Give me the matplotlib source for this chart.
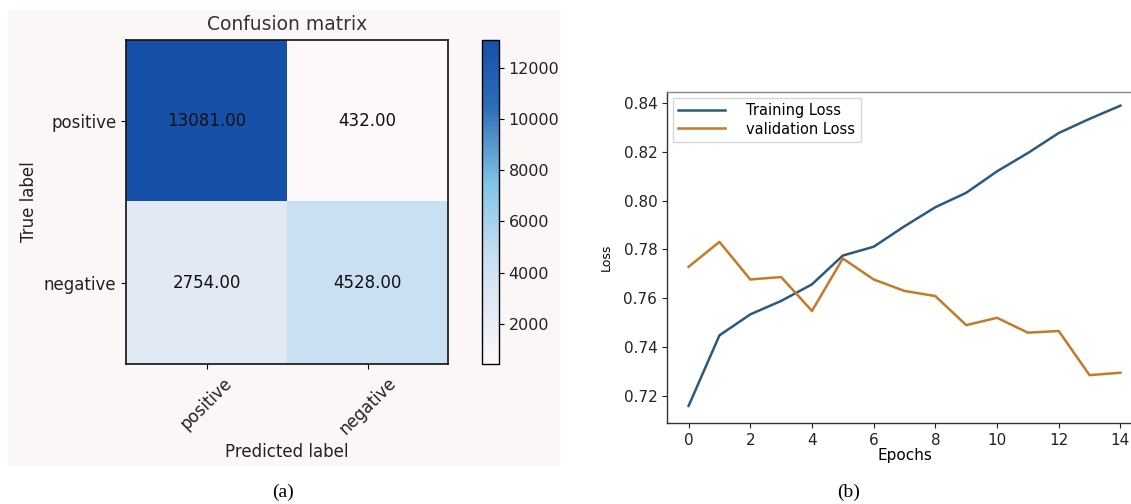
import matplotlib
matplotlib.use('Agg')
import matplotlib.pyplot as plt
import numpy as np
from matplotlib.colors import LinearSegmentedColormap
from matplotlib.patches import Rectangle

plt.rcParams['font.family'] = ['DejaVu Sans']

# confusion matrix counts (rows = true, cols = predicted)
classes = ['positive', 'negative']
cm = np.array([[13081, 432],
               [2754, 4528]])
cbar_ticks = [2000, 4000, 6000, 8000, 10000, 12000]

# loss curves per epoch
epochs = list(range(15))
train_loss = [0.7159, 0.7448, 0.7534, 0.7589, 0.7657, 0.7775, 0.7811, 0.7895,
              0.7973, 0.8032, 0.8120, 0.8195, 0.8277, 0.8335, 0.8389]
val_loss = [0.7729, 0.7831, 0.7677, 0.7687, 0.7548, 0.7763, 0.7677, 0.7630,
            0.7609, 0.7490, 0.7520, 0.7459, 0.7466, 0.7285, 0.7295]
loss_ticks = [0.72, 0.74, 0.76, 0.78, 0.80, 0.82, 0.84]
epoch_ticks = [0, 2, 4, 6, 8, 10, 12, 14]

W, H = 1131, 504


def px_box(left, top, right, bottom):
    """pixel box -> figure fraction [l, b, w, h]"""
    return [left / W, 1 - bottom / H, (right - left) / W, (bottom - top) / H]


fig = plt.figure(figsize=(W / 100, H / 100), dpi=100)
fig.patch.set_facecolor('white')

# light panel behind the confusion matrix
fig.patches.append(Rectangle((8 / W, 1 - 466 / H), 552 / W, 456 / H,
                             transform=fig.transFigure, facecolor='#fbf7f7',
                             edgecolor='none', zorder=-10))

# ---- (a) confusion matrix ----
blues = LinearSegmentedColormap.from_list(
    'cm_blues', [(0.0, '#fdf8f9'), (0.18, '#e2eaf6'), (0.33, '#c8dff2'),
                 (0.55, '#82c6e6'), (0.8, '#2c6cb8'), (1.0, '#1650a8')])

text_col = '#222222'
ax = fig.add_axes(px_box(126, 40, 448, 364))
ax.set_facecolor('none')
im = ax.imshow(cm, cmap=blues, aspect='auto', interpolation='nearest')
ax.set_title('Confusion matrix', fontsize=13.5, color='#333333', pad=7)
ax.set_xticks(range(len(classes)))
ax.set_xticklabels(classes, rotation=45, fontsize=12, color=text_col)
ax.set_yticks(range(len(classes)))
ax.set_yticklabels(classes, fontsize=12, color=text_col)
ax.set_xlabel('Predicted label', fontsize=12, color=text_col)
ax.set_ylabel('True label', fontsize=12, color=text_col)
for s in ax.spines.values():
    s.set_linewidth(1.2)
    s.set_color('#111111')

for i in range(cm.shape[0]):
    for j in range(cm.shape[1]):
        ax.text(j, i, format(cm[i, j], '.2f'), ha='center', va='center',
                fontsize=12, color='#111111')

cax = fig.add_axes(px_box(482, 40, 499, 364))
cb = fig.colorbar(im, cax=cax)
cb.set_ticks(cbar_ticks)
cb.ax.tick_params(labelsize=11.5, labelcolor=text_col)
cb.outline.set_linewidth(1.0)

# ---- (b) loss curves ----
bx = fig.add_axes(px_box(667, 92, 1142, 423))
bx.plot(epochs, train_loss, color='#2c5a7e', linewidth=1.8, label='Training Loss')
bx.plot(epochs, val_loss, color='#c47a28', linewidth=1.8, label='validation Loss')
bx.set_xlim(-0.7, 14.7)
bx.set_ylim(0.7089, 0.8445)
bx.set_xticks(epoch_ticks)
bx.set_yticks(loss_ticks)
bx.set_yticklabels([f'{v:.2f}' for v in loss_ticks])
bx.tick_params(labelsize=11, colors='#222222')
bx.set_xlabel('Epochs', fontsize=11, labelpad=0)
bx.set_ylabel('Loss', fontsize=9, labelpad=8)
for s in bx.spines.values():
    s.set_color('#333333')
    s.set_linewidth(1.0)
bx.spines['top'].set_color('#888888')
bx.legend(loc='upper left', fontsize=10.5, handlelength=3.2, handletextpad=1.5,
          labelspacing=0.25, borderpad=0.35, fancybox=False,
          edgecolor='#cccccc', borderaxespad=0.4)

# panel captions
fig.text(283 / W, 1 - 492 / H, '(a)', ha='center', va='center',
         family='Liberation Serif', fontsize=14)
fig.text(849 / W, 1 - 492 / H, '(b)', ha='center', va='center',
         family='Liberation Serif', fontsize=14)

plt.savefig('out.png', dpi=100)
plt.close()
